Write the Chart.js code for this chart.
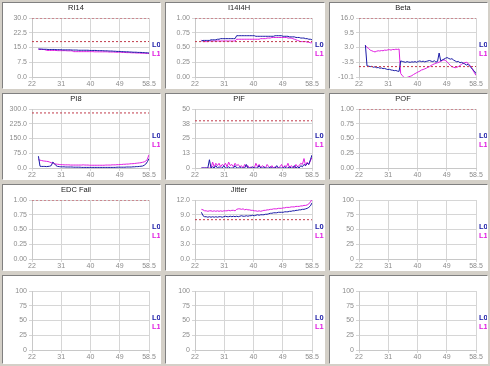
<!DOCTYPE html>
<html><head><meta charset="utf-8">
<script src="https://cdn.jsdelivr.net/npm/chart.js@4.4.1/dist/chart.umd.min.js"></script>
<style>
html,body{margin:0;padding:0;background:#d4d0c8;width:490px;height:366px;overflow:hidden}
.cell{position:absolute;background:#d4d0c8}
.pan{position:absolute;left:2px;top:2px;right:2px;bottom:2px;background:#fff;border-top:1px solid #808080;border-left:1px solid #808080;border-right:1px solid #ffffff;border-bottom:1px solid #ffffff}
canvas{display:block}
</style></head><body>
<script>
// ---- shared x axis ----
const xValues = [24,24.5,25,25.5,26,26.5,27,27.5,28,28.5,
 29,29.5,30,30.5,31,31.5,32,32.5,33,33.5,
 34,34.5,35,35.5,36,36.5,37,37.5,38,38.5,
 39,39.5,40,40.5,41,41.5,42,42.5,43,43.5,
 44,44.5,45,45.5,46,46.5,47,47.5,48,48.5,
 49,49.5,50,50.5,51,51.5,52,52.5,53,53.5,
 54,54.5,55,55.5,56,56.5,57,57.5,58,58.5];
const xTickLabels = ['22','31','40','49','58.5'];
const xMin = 22, xMax = 58.5;

// ---- RI14 ----
const ri14Title = 'RI14';
const ri14YTicks = ['0.0','7.5','15.0','22.5','30.0'];
const ri14Ref = [30, 18];
const ri14L0 = [14.3,14.2,14.2,14.1,14.1,14.1,14.0,14.0,14.0,14.0,
 14.0,13.9,13.9,13.9,13.9,13.8,13.8,13.8,13.8,13.8,
 13.8,13.7,13.7,13.7,13.7,13.6,13.6,13.6,13.6,13.6,
 13.6,13.6,13.5,13.5,13.5,13.5,13.5,13.4,13.4,13.4,
 13.4,13.3,13.3,13.3,13.2,13.2,13.2,13.1,13.1,13.0,
 13.0,13.0,12.9,12.9,12.8,12.8,12.8,12.7,12.7,12.6,
 12.6,12.6,12.5,12.5,12.5,12.4,12.4,12.3,12.3,12.2];
const ri14L1 = [14.1,14.0,14.0,14.0,13.9,13.6,13.5,13.5,13.5,13.5,
 13.5,13.5,13.4,13.4,13.4,13.4,13.4,13.4,13.3,13.3,
 13.3,13.3,12.9,12.9,12.9,12.9,12.9,12.9,12.9,12.9,
 12.9,12.9,12.9,12.9,12.9,12.8,12.8,12.8,12.8,12.8,
 12.8,12.8,12.8,12.8,12.7,12.7,12.7,12.7,12.6,12.6,
 12.6,12.6,12.5,12.5,12.5,12.4,12.4,12.4,12.3,12.3,
 12.3,12.2,12.2,12.2,12.1,12.1,12.1,12.0,12.0,11.9];

// ---- I14I4H ----
const i14Title = 'I14I4H';
const i14YTicks = ['0.00','0.25','0.50','0.75','1.00'];
const i14Ref = [1.0, 0.6];
const i14L0 = [0.61,0.62,0.62,0.62,0.62,0.62,0.63,0.63,0.63,0.63,
 0.64,0.64,0.65,0.65,0.65,0.65,0.65,0.65,0.65,0.65,
 0.65,0.65,0.70,0.70,0.70,0.70,0.70,0.70,0.70,0.70,
 0.70,0.70,0.70,0.70,0.69,0.69,0.69,0.69,0.69,0.69,
 0.69,0.69,0.69,0.69,0.69,0.69,0.70,0.70,0.70,0.70,
 0.70,0.69,0.69,0.69,0.69,0.68,0.68,0.68,0.68,0.67,
 0.67,0.67,0.66,0.66,0.66,0.65,0.65,0.64,0.64,0.63];
const i14L1 = [0.63,0.60,0.60,0.60,0.60,0.61,0.61,0.61,0.61,0.61,
 0.61,0.61,0.61,0.61,0.61,0.61,0.61,0.61,0.61,0.61,
 0.61,0.61,0.64,0.64,0.64,0.64,0.64,0.64,0.64,0.64,
 0.64,0.64,0.64,0.64,0.64,0.64,0.64,0.65,0.65,0.65,
 0.65,0.66,0.66,0.66,0.67,0.67,0.67,0.67,0.67,0.67,
 0.67,0.67,0.67,0.67,0.66,0.66,0.66,0.65,0.64,0.63,
 0.62,0.61,0.60,0.60,0.60,0.60,0.59,0.59,0.58,0.58];

// ---- Beta ----
const betaTitle = 'Beta';
const betaYTicks = ['-10.1','-3.5','3.0','9.5','16.0'];
const betaRef = [16.0, -5.5];
const betaL0 = [4.0,-5.2,-5.3,-5.5,-5.4,-5.8,-5.6,-6.0,-5.9,-6.2,
 -6.1,-6.4,-6.3,-6.6,-6.8,-6.7,-7.0,-7.1,-7.3,-7.2,
 -7.5,-7.6,-3.0,-3.2,-3.4,-3.6,-3.3,-3.5,-3.6,-3.4,
 -3.5,-3.3,-3.6,-3.2,-3.0,-3.3,-3.1,-3.4,-3.2,-3.0,
 -2.8,-3.1,-3.3,-2.9,-3.5,-3.2,0.5,-3.0,-2.5,-2.2,
 -1.8,-1.5,-1.9,-2.2,-2.0,-2.6,-3.0,-3.4,-3.2,-3.8,
 -3.6,-4.0,-4.3,-4.8,-4.5,-5.2,-6.0,-6.8,-7.5,-8.6];
const betaL1 = [3.8,3.0,2.5,1.8,1.5,1.2,1.0,1.3,1.5,1.4,
 1.6,1.5,1.8,1.7,1.9,2.0,1.8,2.1,2.0,2.2,
 2.1,2.3,-8.5,-9.5,-10.2,-10.5,-10.3,-10.0,-9.8,-9.5,
 -9.0,-8.6,-8.2,-7.8,-7.5,-7.0,-6.8,-6.5,-6.2,-5.8,
 -5.5,-5.0,-4.6,-4.3,-4.0,-3.8,-3.5,-3.2,-2.8,-2.5,
 -2.8,-3.5,-4.2,-5.0,-5.5,-5.8,-6.0,-5.8,-5.5,-5.0,
 -4.5,-4.0,-3.8,-3.6,-4.0,-4.8,-5.8,-7.0,-8.2,-9.4];

// ---- PI8 ----
const pi8Title = 'PI8';
const pi8YTicks = ['0.0','75.0','150.0','225.0','300.0'];
const pi8Ref = [280];
const pi8L0 = [60,9,8,8,8,7,8,9,12,30,
 22,12,8,7,6,6,6,5,5,5,
 5,5,4,4,4,4,4,3,3,3,
 3,3,3,3,3,3,3,3,3,3,
 3,3,3,3,3,3,3,3,3,4,
 4,4,4,4,4,5,5,5,5,6,
 6,7,7,8,9,10,14,20,32,48];
const pi8L1 = [42,40,38,36,35,34,33,30,27,25,
 22,20,19,18,17,17,16,16,16,16,
 15,15,15,15,15,15,15,15,16,15,
 15,15,14,14,14,14,14,14,14,14,
 14,14,15,15,15,15,16,16,16,17,
 17,18,18,19,19,20,20,21,22,22,
 23,24,25,26,27,29,31,35,45,68];

// ---- PIF ----
const pifTitle = 'PIF';
const pifYTicks = ['0','13','25','38','50'];
const pifRef = [40];
const pifL0 = [0,0,0,0,0,7,0,1,0,2,
 0,1,0,0,2,0,0,1,0,0,
 0,2,0,0,1,0,0,0,3,0,
 0,0,1,0,0,0,2,0,0,1,
 0,0,0,1,0,0,0,2,0,0,
 0,0,1,0,0,1,0,0,2,0,
 1,0,2,1,3,2,4,3,7,11];
const pifL1 = [0,0,0,0,0,0,0,5,1,4,
 2,4,1,3,2,4,1,5,2,3,
 1,4,2,3,1,2,0,3,1,2,
 0,1,0,0,4,1,3,0,2,1,
 0,3,1,0,2,0,1,0,0,1,
 3,0,2,1,4,0,2,1,0,3,
 1,2,4,3,8,2,5,3,6,9];

// ---- POF ----
const pofTitle = 'POF';
const pofYTicks = ['0.00','0.25','0.50','0.75','1.00'];
const pofRef = [1.0];

// ---- EDC Fail ----
const edcTitle = 'EDC Fail';
const edcYTicks = ['0.00','0.25','0.50','0.75','1.00'];
const edcRef = [1.0];

// ---- Jitter ----
const jitTitle = 'Jitter';
const jitYTicks = ['0.0','3.0','6.0','9.0','12.0'];
const jitRef = [8.0];
const jitL0 = [9.5,8.8,8.6,8.6,8.5,8.6,8.5,8.6,8.5,8.6,
 8.5,8.6,8.6,8.5,8.6,8.7,8.6,8.6,8.7,8.6,
 8.7,8.6,8.7,8.6,8.7,8.8,8.7,8.7,8.8,8.7,
 8.8,8.8,8.9,8.8,8.9,9.0,8.9,9.0,9.0,9.0,
 9.1,9.1,9.2,9.3,9.3,9.4,9.4,9.4,9.5,9.5,
 9.5,9.5,9.6,9.6,9.6,9.7,9.7,9.8,9.8,9.9,
 9.9,10.0,10.0,10.1,10.1,10.2,10.3,10.5,10.8,11.4];
const jitL1 = [10.1,10.0,9.8,9.8,9.7,9.8,9.8,9.7,9.8,9.7,
 9.8,9.7,9.8,9.7,9.8,9.8,9.8,9.9,9.8,9.9,
 9.9,9.8,10.1,10.2,10.2,10.1,10.2,10.0,10.1,10.0,
 10.0,9.9,9.9,9.8,9.8,9.7,9.8,9.7,9.8,9.9,
 9.9,10.0,10.0,10.1,10.1,10.2,10.2,10.2,10.3,10.3,
 10.3,10.4,10.4,10.5,10.5,10.5,10.6,10.6,10.6,10.7,
 10.7,10.7,10.8,10.8,10.9,10.9,11.0,11.2,11.6,12.1];

// ---- empty panels ----
const emptyYTicks = ['0','25','50','75','100'];

const COL_L0 = '#1a1aa6';
const COL_L1 = '#e01ee0';
const COL_REF = '#c03a4a';
const FONT = '"Liberation Sans", Arial, sans-serif';

const panels = [
  {title: ri14Title, min: 0, max: 30, yt: ri14YTicks, l0: ri14L0, l1: ri14L1, refs: ri14Ref},
  {title: i14Title, min: 0, max: 1, yt: i14YTicks, l0: i14L0, l1: i14L1, refs: i14Ref},
  {title: betaTitle, min: -10.1, max: 16.0, yt: betaYTicks, l0: betaL0, l1: betaL1, refs: betaRef},
  {title: pi8Title, min: 0, max: 300, yt: pi8YTicks, l0: pi8L0, l1: pi8L1, refs: pi8Ref},
  {title: pifTitle, min: 0, max: 50, yt: pifYTicks, l0: pifL0, l1: pifL1, refs: pifRef},
  {title: pofTitle, min: 0, max: 1, yt: pofYTicks, l0: null, l1: null, refs: pofRef},
  {title: edcTitle, min: 0, max: 1, yt: edcYTicks, l0: null, l1: null, refs: edcRef},
  {title: jitTitle, min: 0, max: 12, yt: jitYTicks, l0: jitL0, l1: jitL1, refs: jitRef},
  {title: '', min: 0, max: 100, yt: emptyYTicks, l0: null, l1: null, refs: []},
  {title: '', min: 0, max: 100, yt: emptyYTicks, l0: null, l1: null, refs: []},
  {title: '', min: 0, max: 100, yt: emptyYTicks, l0: null, l1: null, refs: []},
  {title: '', min: 0, max: 100, yt: emptyYTicks, l0: null, l1: null, refs: []}
];

const legendPlugin = {
  id: 'lzlegend',
  afterDraw(chart) {
    const ctx = chart.ctx, a = chart.chartArea;
    const mid = (a.top + a.bottom) / 2;
    ctx.save();
    ctx.font = 'bold 7.5px ' + FONT;
    ctx.textBaseline = 'middle';
    ctx.textAlign = 'left';
    ctx.fillStyle = COL_L0; ctx.fillText('L0', a.right + 3, mid - 3);
    ctx.fillStyle = COL_L1; ctx.fillText('L1', a.right + 3, mid + 6);
    ctx.restore();
  }
};

function evenTicks(labels, min, max) {
  return function(scale) {
    scale.ticks = labels.map((_, i) => ({value: min + (max - min) * i / (labels.length - 1)}));
  };
}

const lefts = [0, 163, 327], widths = [163, 164, 163];
const tops = [0, 91, 182, 273], heights = [91, 91, 91, 93];

panels.forEach((p, idx) => {
  const r = Math.floor(idx / 3), c = idx % 3;
  const cell = document.createElement('div');
  cell.className = 'cell';
  cell.style.left = lefts[c] + 'px'; cell.style.top = tops[r] + 'px';
  cell.style.width = widths[c] + 'px'; cell.style.height = heights[r] + 'px';
  const pan = document.createElement('div'); pan.className = 'pan';
  const cv = document.createElement('canvas');
  cv.width = widths[c] - 6; cv.height = 85;
  cv.style.width = cv.width + 'px'; cv.style.height = '85px';
  pan.appendChild(cv); cell.appendChild(pan); document.body.appendChild(cell);

  const ds = [];
  p.refs.forEach(v => ds.push({data: [{x: xMin, y: v}, {x: xMax, y: v}], borderColor: COL_REF, borderWidth: 1, borderDash: [2, 2], pointRadius: 0}));
  if (p.l0) ds.push({data: xValues.map((x, i) => ({x: x, y: p.l0[i]})), borderColor: COL_L0, borderWidth: 1, pointRadius: 0});
  if (p.l1) ds.push({data: xValues.map((x, i) => ({x: x, y: p.l1[i]})), borderColor: COL_L1, borderWidth: 1, pointRadius: 0});

  new Chart(cv, {
    type: 'line',
    data: {datasets: ds},
    options: {
      responsive: false, animation: false, devicePixelRatio: 1,
      layout: {padding: {left: 0, right: cv.width - 146, top: p.title ? 0 : 15, bottom: 0}},
      elements: {line: {tension: 0}},
      plugins: {
        legend: {display: false}, tooltip: {enabled: false},
        title: {display: !!p.title, text: p.title, color: '#222', font: {family: FONT, size: 7.5, weight: 'normal', lineHeight: 1.2}, padding: {top: 0, bottom: 6}}
      },
      scales: {
        x: {
          type: 'linear', min: xMin, max: xMax,
          afterBuildTicks: evenTicks(xTickLabels, xMin, xMax),
          afterFit(s) { s.height = 11; },
          ticks: {autoSkip: false, maxRotation: 0, padding: 0, color: '#8c8c8c', font: {family: FONT, size: 7}, callback: (v, i) => xTickLabels[i]},
          grid: {color: '#d6d6d6', tickLength: 3},
          border: {color: '#c8c8c8'}
        },
        y: {
          type: 'linear', min: p.min, max: p.max,
          afterBuildTicks: evenTicks(p.yt, p.min, p.max),
          afterFit(s) { s.width = 29; },
          ticks: {autoSkip: false, padding: 2, color: '#8c8c8c', font: {family: FONT, size: 7}, callback: (v, i) => p.yt[i]},
          grid: {color: '#d6d6d6', tickLength: 3},
          border: {color: '#c8c8c8'}
        }
      }
    },
    plugins: [legendPlugin]
  });
});
</script>
</body></html>
